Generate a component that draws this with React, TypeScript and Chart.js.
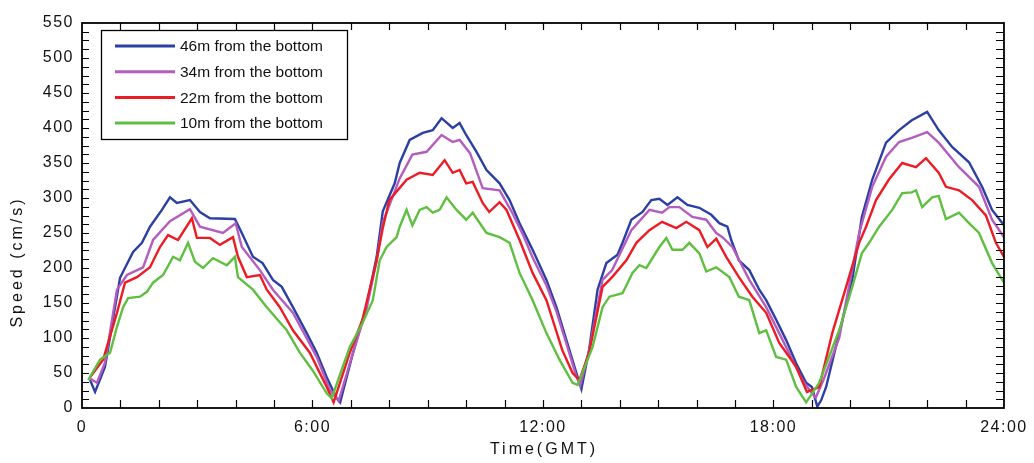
import { useEffect, useRef } from "react";
import { Chart, registerables } from "chart.js";

Chart.register(...registerables);

const seriesLabels = [
  "46m from the bottom",
  "34m from the bottom",
  "22m from the bottom",
  "10m from the bottom",
];
const seriesColors = ["#2c3fa3", "#b45cbf", "#ec1c24", "#5fbf40"];

const xTickValues = [0, 6, 12, 18, 24];
const xTickLabels = ["0", "6:00", "12:00", "18:00", "24:00"];
const xTitle = "Time(GMT)";
const yTitle = "Speed (cm/s)";

// 46 m from the bottom (hours, cm/s)
const t46 = [0.21, 0.34, 0.6, 0.86, 0.99, 1.33, 1.56, 1.77, 2.08, 2.29, 2.47, 2.81, 3.07, 3.33, 3.98, 4.16, 4.45, 4.7, 4.97, 5.2, 5.49, 5.85, 6.11, 6.37, 6.63, 6.72, 7.05, 7.4, 7.67, 7.83, 8.14, 8.27, 8.53, 8.87, 9.13, 9.36, 9.65, 9.83, 10.0, 10.27, 10.53, 10.87, 11.13, 11.39, 11.73, 12.09, 12.35, 12.61, 12.87, 13.0, 13.2, 13.42, 13.65, 13.94, 14.07, 14.3, 14.59, 14.82, 15.03, 15.24, 15.5, 15.76, 16.07, 16.38, 16.59, 16.8, 16.9, 17.1, 17.37, 17.63, 17.81, 18.07, 18.33, 18.59, 18.85, 19.0, 19.14, 19.24, 19.37, 19.71, 20.05, 20.3, 20.57, 20.93, 21.27, 21.6, 22.0, 22.3, 22.65, 23.09, 23.43, 23.69, 24.0];
const v46 = [40, 23, 59, 144, 186, 223, 236, 259, 283, 301, 293, 297, 280, 271, 270, 250, 216, 207, 183, 173, 144, 107, 79, 44, 14, 8, 78, 144, 216, 281, 321, 350, 383, 393, 397, 414, 400, 407, 390, 366, 340, 321, 297, 264, 226, 183, 144, 97, 50, 27, 83, 169, 207, 219, 236, 269, 280, 297, 299, 290, 301, 290, 286, 276, 264, 259, 240, 211, 197, 169, 154, 126, 97, 64, 36, 30, 2, 11, 30, 107, 183, 273, 326, 379, 397, 411, 423, 397, 373, 351, 316, 283, 261];

// 34 m from the bottom
const t34 = [0.21, 0.39, 0.6, 0.91, 1.17, 1.59, 1.85, 2.29, 2.81, 3.07, 3.67, 4.0, 4.16, 4.63, 4.97, 5.49, 6.11, 6.45, 6.68, 7.05, 7.4, 7.67, 7.83, 8.27, 8.6, 8.97, 9.36, 9.65, 9.83, 10.1, 10.43, 10.87, 11.2, 11.5, 11.73, 12.09, 12.35, 12.61, 12.87, 12.97, 13.2, 13.55, 13.8, 14.3, 14.77, 15.1, 15.29, 15.55, 15.89, 16.25, 16.51, 16.67, 16.93, 17.37, 17.81, 18.33, 18.75, 19.0, 19.1, 19.3, 19.71, 20.23, 20.57, 20.93, 21.27, 21.6, 22.0, 22.3, 22.83, 23.35, 23.69, 24.0];
const v34 = [42, 36, 65, 169, 190, 201, 240, 267, 284, 259, 250, 264, 230, 197, 169, 136, 73, 26, 10, 78, 140, 210, 265, 328, 362, 366, 390, 380, 383, 364, 314, 311, 279, 245, 215, 175, 138, 92, 45, 32, 82, 183, 197, 254, 283, 279, 287, 287, 273, 269, 250, 244, 230, 183, 144, 87, 40, 21, 15, 40, 100, 250, 316, 359, 380, 386, 394, 379, 344, 316, 269, 244];

// 22 m from the bottom
const t22 = [0.21, 0.55, 0.91, 1.12, 1.43, 1.77, 2.03, 2.24, 2.5, 2.86, 2.99, 3.33, 3.59, 3.93, 4.06, 4.29, 4.63, 4.81, 5.15, 5.49, 5.93, 6.37, 6.55, 6.97, 7.3, 7.67, 7.83, 8.0, 8.45, 8.79, 9.13, 9.44, 9.65, 9.83, 10.0, 10.17, 10.43, 10.6, 10.87, 11.05, 11.39, 11.73, 12.09, 12.5, 12.77, 12.95, 13.2, 13.55, 13.8, 14.17, 14.43, 14.77, 15.1, 15.47, 15.73, 16.07, 16.28, 16.51, 16.77, 17.1, 17.45, 17.81, 18.15, 18.59, 18.87, 19.19, 19.53, 19.89, 20.23, 20.41, 20.67, 21.0, 21.35, 21.71, 21.97, 22.3, 22.49, 22.83, 23.17, 23.53, 23.79, 24.0];
const v22 = [44, 69, 136, 179, 187, 201, 230, 247, 240, 271, 243, 243, 233, 244, 216, 187, 190, 169, 144, 111, 79, 30, 8, 79, 126, 211, 257, 297, 326, 336, 333, 354, 336, 340, 321, 323, 293, 280, 294, 283, 240, 193, 154, 83, 50, 40, 79, 173, 187, 211, 236, 254, 266, 257, 266, 254, 230, 242, 216, 187, 159, 136, 93, 59, 23, 30, 107, 173, 236, 259, 297, 326, 350, 344, 357, 336, 316, 311, 297, 275, 236, 216];

// 10 m from the bottom
const t10 = [0.16, 0.47, 0.73, 0.91, 1.07, 1.2, 1.51, 1.69, 1.85, 2.11, 2.37, 2.55, 2.76, 2.94, 3.15, 3.41, 3.77, 3.98, 4.06, 4.45, 4.81, 5.33, 5.67, 6.0, 6.37, 6.5, 6.97, 7.3, 7.57, 7.75, 7.93, 8.19, 8.27, 8.45, 8.6, 8.79, 8.97, 9.13, 9.31, 9.49, 9.75, 10.0, 10.17, 10.53, 10.87, 11.13, 11.39, 11.73, 12.09, 12.43, 12.77, 12.9, 13.29, 13.55, 13.73, 14.07, 14.33, 14.51, 14.69, 15.03, 15.21, 15.37, 15.63, 15.81, 16.07, 16.25, 16.51, 16.85, 17.1, 17.37, 17.63, 17.81, 18.07, 18.33, 18.59, 18.85, 19.19, 19.71, 20.05, 20.3, 20.49, 20.75, 21.09, 21.35, 21.6, 21.71, 21.87, 22.13, 22.3, 22.49, 22.83, 23.09, 23.35, 23.69, 24.0];
const v10 = [40, 69, 79, 116, 144, 157, 159, 166, 179, 190, 216, 211, 236, 209, 200, 214, 204, 216, 187, 169, 144, 111, 79, 54, 21, 14, 87, 121, 154, 211, 230, 244, 259, 283, 261, 283, 287, 279, 283, 301, 283, 269, 279, 250, 244, 236, 193, 154, 107, 69, 36, 33, 87, 144, 159, 164, 193, 204, 200, 230, 243, 226, 226, 236, 221, 195, 201, 187, 159, 154, 107, 111, 73, 69, 30, 8, 36, 111, 173, 221, 236, 259, 283, 307, 308, 311, 287, 301, 303, 270, 279, 264, 250, 207, 179];

const seriesTimes = [t46, t34, t22, t10];
const seriesValues = [v46, v34, v22, v10];

const FONT = "'Liberation Sans', Arial, Helvetica, sans-serif";

const framePlugin = {
  id: "frameTicks",
  beforeDraw(chart: any) {
    chart.ctx.letterSpacing = "1.5px";
  },
  afterDraw(chart: any) {
    const { ctx, chartArea, scales } = chart;
    const { left, right, top, bottom } = chartArea;
    const xs = scales.x;
    const ys = scales.y;
    ctx.save();
    ctx.strokeStyle = "#000";
    ctx.lineWidth = 1.2;
    ctx.beginPath();
    for (let h = 1; h < 24; h++) {
      const px = Math.round(xs.getPixelForValue(h)) + 0.5;
      ctx.moveTo(px, bottom);
      ctx.lineTo(px, bottom - 8);
      ctx.moveTo(px, top);
      ctx.lineTo(px, top + 7);
    }
    for (let v = 12.5; v < 550; v += 12.5) {
      const py = Math.round(ys.getPixelForValue(v)) + 0.5;
      ctx.moveTo(left, py);
      ctx.lineTo(left + 7, py);
      ctx.moveTo(right, py);
      ctx.lineTo(right - 8, py);
    }
    ctx.stroke();
    ctx.lineWidth = 1.8;
    ctx.strokeRect(left, top, right - left, bottom - top);

    // axis titles
    ctx.fillStyle = "#111";
    ctx.letterSpacing = "3px";
    ctx.font = `16px ${FONT}`;
    ctx.textAlign = "center";
    ctx.textBaseline = "middle";
    ctx.fillText(xTitle, (left + right) / 2 + 1, 450);
    ctx.save();
    ctx.translate(18, 262);
    ctx.rotate(-Math.PI / 2);
    ctx.fillText(yTitle, 0, 0);
    ctx.restore();

    // legend box
    ctx.letterSpacing = "0px";
    const bx = left + 19;
    const by = top + 7;
    const bw = 246;
    const bh = 109;
    ctx.fillStyle = "#fff";
    ctx.fillRect(bx, by, bw, bh);
    ctx.strokeStyle = "#000";
    ctx.lineWidth = 1.3;
    ctx.strokeRect(bx + 0.5, by + 0.5, bw, bh);
    ctx.font = `15.5px ${FONT}`;
    ctx.textBaseline = "middle";
    ctx.textAlign = "left";
    chart.data.datasets.forEach((ds: any, i: number) => {
      const yy = by + 16 + i * 25.7;
      ctx.strokeStyle = ds.borderColor;
      ctx.lineWidth = 3;
      ctx.beginPath();
      ctx.moveTo(bx + 14, yy);
      ctx.lineTo(bx + 74, yy);
      ctx.stroke();
      ctx.fillStyle = "#111";
      ctx.fillText(ds.label, bx + 79, yy + 1);
    });
    ctx.restore();
    ctx.letterSpacing = "0px";
  },
};

export default function App() {
  const ref = useRef<HTMLCanvasElement | null>(null);
  useEffect(() => {
    if (!ref.current) return;
    const datasets = seriesLabels.map((label, i) => ({
      label,
      data: seriesTimes[i].map((t, j) => ({ x: t, y: seriesValues[i][j] })),
      borderColor: seriesColors[i],
      backgroundColor: seriesColors[i],
      borderWidth: 2.4,
      pointRadius: 0,
      tension: 0,
      fill: false,
      order: 4 - i,
    }));
    const chart = new Chart(ref.current, {
      type: "line",
      data: { datasets },
      options: {
        animation: false,
        responsive: false,
        devicePixelRatio: 1,
        layout: { padding: { left: 0, top: 23, right: 29, bottom: 0 } },
        plugins: { legend: { display: false }, tooltip: { enabled: false } },
        scales: {
          x: {
            type: "linear",
            min: 0,
            max: 24,
            afterFit: (s: any) => {
              s.height = 55;
            },
            afterBuildTicks: (s: any) => {
              s.ticks = xTickValues.map((v) => ({ value: v }));
            },
            ticks: {
              autoSkip: false,
              maxRotation: 0,
              padding: 10,
              color: "#111",
              font: { family: FONT, size: 16 },
              callback: (v: any) => {
                const k = xTickValues.indexOf(Number(v));
                return k >= 0 ? xTickLabels[k] : "";
              },
            },
            grid: { display: false, drawTicks: false },
            border: { display: false },
            title: { display: false },
          },
          y: {
            min: 0,
            max: 550,
            afterFit: (s: any) => {
              s.width = 82;
            },
            ticks: {
              stepSize: 50,
              padding: 8,
              color: "#111",
              font: { family: FONT, size: 16 },
            },
            grid: { display: false, drawTicks: false },
            border: { display: false },
            title: { display: false },
          },
        },
      },
      plugins: [framePlugin],
    });
    return () => chart.destroy();
  }, []);
  return (
    <div style={{ position: "absolute", left: 0, top: 0, width: 1034, height: 463, background: "#fff" }}>
      <canvas ref={ref} width={1034} height={463} />
    </div>
  );
}
